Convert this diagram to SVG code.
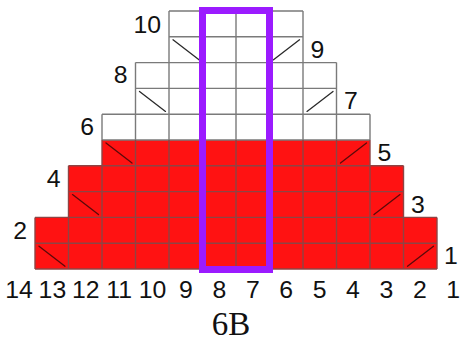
<svg xmlns="http://www.w3.org/2000/svg" width="460" height="341" viewBox="0 0 460 341">
<style>
.red{fill:#ff1212;stroke:none}
.gw{fill:none;stroke:#7a7a7a;stroke-width:1.4}
.gr{fill:none;stroke:#8e4444;stroke-width:1.4}
.dw{stroke:#2a2a2a;stroke-width:1.3;stroke-linecap:round}
.dr{stroke:#5a0a0a;stroke-width:1.3;stroke-linecap:round}
.hl{fill:none;stroke:#9b1bff;stroke-width:7}
.num{font-family:"Liberation Sans",Arial,sans-serif;font-size:24.8px;fill:#111}
.title{font-family:"Liberation Serif","Times New Roman",serif;font-size:33px;fill:#111;text-anchor:middle}
</style>
<rect width="460" height="341" fill="#ffffff"/>
<g id="chart-fill">
<path class="red" d="M35,217.4 H68.5 V165.8 H102 V140 H370 V165.8 H403.5 V217.4 H437 V269 H35 Z"/>
</g>
<g id="grid-white">
<path class="gw" d="M169,11 H303 M169,36.8 H303 M135.5,62.6 H336.5 M135.5,88.4 H336.5 M102,114.2 H370 M102,140 H370
M169,11 V62.6 M202.5,11 V62.6 M236,11 V62.6 M269.5,11 V62.6 M303,11 V62.6
M135.5,62.6 V114.2 M169,62.6 V114.2 M202.5,62.6 V114.2 M236,62.6 V114.2 M269.5,62.6 V114.2 M303,62.6 V114.2 M336.5,62.6 V114.2
M102,114.2 V140 M135.5,114.2 V140 M169,114.2 V140 M202.5,114.2 V140 M236,114.2 V140 M269.5,114.2 V140 M303,114.2 V140 M336.5,114.2 V140 M370,114.2 V140"/>
</g>
<g id="grid-red">
<path class="gr" d="M68.5,165.8 H403.5 M68.5,191.6 H403.5 M35,217.4 H437 M35,243.2 H437 M35,269 H437
M102,140 V165.8 M135.5,140 V165.8 M169,140 V165.8 M202.5,140 V165.8 M236,140 V165.8 M269.5,140 V165.8 M303,140 V165.8 M336.5,140 V165.8 M370,140 V165.8
M68.5,165.8 V217.4 M102,165.8 V217.4 M135.5,165.8 V217.4 M169,165.8 V217.4 M202.5,165.8 V217.4 M236,165.8 V217.4 M269.5,165.8 V217.4 M303,165.8 V217.4 M336.5,165.8 V217.4 M370,165.8 V217.4 M403.5,165.8 V217.4
M35,217.4 V269 M68.5,217.4 V269 M102,217.4 V269 M135.5,217.4 V269 M169,217.4 V269 M202.5,217.4 V269 M236,217.4 V269 M269.5,217.4 V269 M303,217.4 V269 M336.5,217.4 V269 M370,217.4 V269 M403.5,217.4 V269 M437,217.4 V269"/>
</g>
<g id="decreases">
<line class="dr" x1="39" y1="246.2" x2="65" y2="266.2"/>
<line class="dr" x1="407.5" y1="266.2" x2="433.5" y2="246.2"/>
<line class="dr" x1="72.5" y1="194.6" x2="98.5" y2="214.6"/>
<line class="dr" x1="374" y1="214.6" x2="400" y2="194.6"/>
<line class="dr" x1="106" y1="143" x2="132" y2="163"/>
<line class="dr" x1="340.5" y1="163" x2="366.5" y2="143"/>
<line class="dw" x1="139.5" y1="91.4" x2="165.5" y2="111.4"/>
<line class="dw" x1="307" y1="111.4" x2="333" y2="91.4"/>
<line class="dw" x1="173" y1="39.8" x2="199" y2="59.8"/>
<line class="dw" x1="273.5" y1="59.8" x2="299.5" y2="39.8"/>
</g>
<g id="highlight">
<rect class="hl" x="202.5" y="10.5" width="67" height="259"/>
</g>
<g id="row-labels" class="num">
<text x="161" y="32.7" text-anchor="end">10</text>
<text x="310.5" y="57.5">9</text>
<text x="127.5" y="83.4" text-anchor="end">8</text>
<text x="344" y="109.3">7</text>
<text x="94" y="135.1" text-anchor="end">6</text>
<text x="377.5" y="161">5</text>
<text x="60.5" y="186.8" text-anchor="end">4</text>
<text x="411" y="212.7">3</text>
<text x="27" y="238.8" text-anchor="end">2</text>
<text x="444" y="263.5">1</text>
</g>
<g id="column-labels" class="num" text-anchor="middle">
<text x="19" y="298.3">14</text>
<text x="52.4" y="298.3">13</text>
<text x="85.8" y="298.3">12</text>
<text x="119.2" y="298.3">11</text>
<text x="152.6" y="298.3">10</text>
<text x="186" y="298.3">9</text>
<text x="219.4" y="298.3">8</text>
<text x="252.8" y="298.3">7</text>
<text x="286.2" y="298.3">6</text>
<text x="319.6" y="298.3">5</text>
<text x="353" y="298.3">4</text>
<text x="386.4" y="298.3">3</text>
<text x="419.8" y="298.3">2</text>
<text x="453.2" y="298.3">1</text>
</g>
<g id="title">
<text class="title" x="231" y="335">6B</text>
</g>
</svg>
